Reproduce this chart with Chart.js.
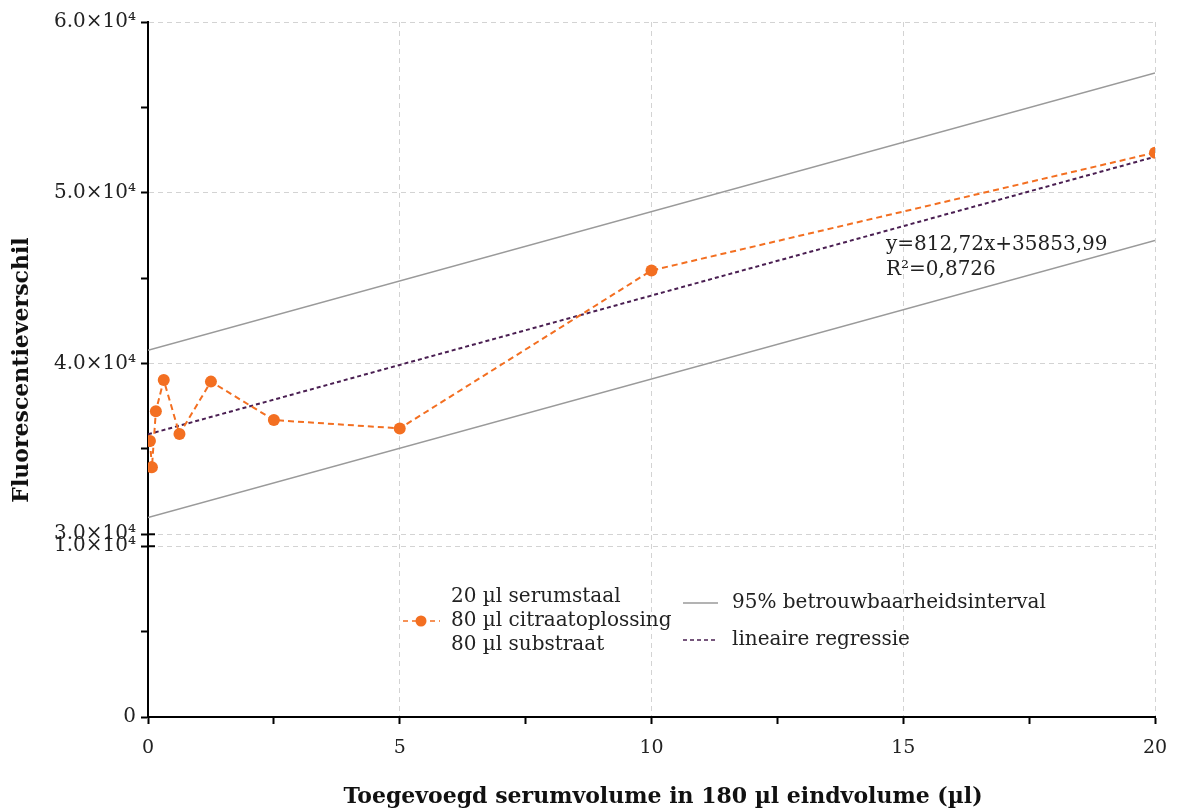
<!DOCTYPE html>
<html>
<head>
<meta charset="utf-8">
<script src="https://cdn.jsdelivr.net/npm/chart.js@4.4.0/dist/chart.umd.min.js"></script>
<style>
  html, body { margin: 0; padding: 0; background: #fff; }
  #wrap { width: 1177px; height: 811px; }
</style>
</head>
<body>
<div id="wrap"><canvas id="myChart"></canvas></div>
<script>
// meetpunten (serumvolume in µl, fluorescentieverschil)
const volumes = [0.039, 0.078, 0.156, 0.3125, 0.625, 1.25, 2.5, 5, 10, 20];
const fluorescence = [35460, 33920, 37210, 39030, 35870, 38940, 36690, 36200, 45450, 52350];

// regressie en 95% interval (eindpunten)
const fitX = [0, 20];
const regressionY = [35854, 52108];
const ciUpperY = [40770, 57020];
const ciLowerY = [30980, 47200];

// assen
const xTicks = [0, 2.5, 5, 7.5, 10, 12.5, 15, 17.5, 20];
const xTickLabels = { 0: '0', 5: '5', 10: '10', 15: '15', 20: '20' };
const yHighTicks = [30000, 35000, 40000, 45000, 50000, 55000, 60000];
const yHighTickLabels = { 30000: '3.0×10⁴', 40000: '4.0×10⁴', 50000: '5.0×10⁴', 60000: '6.0×10⁴' };
const yLowTicks = [0, 5000, 10000];
const yLowTickLabels = { 0: '0', 10000: '1.0×10⁴' };

const FONT = '"DejaVu Serif", serif';
const ORANGE = '#f36f21';
const PURPLE = '#4a1f52';
const GREY = '#9a9a9a';
const GRID = '#d3d3d3';

Chart.defaults.font.family = FONT;
Chart.defaults.color = '#222';

function toPoints(xs, ys) {
    return xs.map((x, i) => ({ x: x, y: ys[i] }));
}

// extra tekst, legende en breukmarkering
const extras = {
    id: 'extras',
    afterDraw(chart) {
        const ctx = chart.ctx;
        const area = chart.chartArea;
        const yHigh = chart.scales.yHigh;
        const yLow = chart.scales.yLow;
        ctx.save();

        // breuk in de y-as: tickjes ook naar binnen
        ctx.strokeStyle = '#000';
        ctx.lineWidth = 2;
        [yHigh.getPixelForValue(30000), yLow.getPixelForValue(10000)].forEach(py => {
            ctx.beginPath();
            ctx.moveTo(area.left, py);
            ctx.lineTo(area.left + 7, py);
            ctx.stroke();
        });

        // astitels
        ctx.fillStyle = '#111';
        ctx.font = 'bold 22px ' + FONT;
        ctx.textAlign = 'center';
        ctx.textBaseline = 'middle';
        ctx.fillText('Toegevoegd serumvolume in 180 µl eindvolume (µl)', 663, 797);
        ctx.save();
        ctx.translate(22, 370);
        ctx.rotate(-Math.PI / 2);
        ctx.fillText('Fluorescentieverschil', 0, 0);
        ctx.restore();

        // vergelijking
        ctx.font = '20px ' + FONT;
        ctx.textAlign = 'left';
        ctx.fillStyle = '#222';
        ctx.fillText('y=812,72x+35853,99', 886, 245);
        ctx.fillText('R²=0,8726', 886, 270);

        // legende links
        ctx.strokeStyle = ORANGE;
        ctx.lineWidth = 1.5;
        ctx.setLineDash([5, 4]);
        ctx.beginPath();
        ctx.moveTo(403, 621);
        ctx.lineTo(440, 621);
        ctx.stroke();
        ctx.setLineDash([]);
        ctx.fillStyle = ORANGE;
        ctx.beginPath();
        ctx.arc(421, 621, 5.5, 0, Math.PI * 2);
        ctx.fill();
        ctx.fillStyle = '#222';
        ctx.fillText('20 µl serumstaal', 451, 597);
        ctx.fillText('80 µl citraatoplossing', 451, 621);
        ctx.fillText('80 µl substraat', 451, 645);

        // legende rechts
        ctx.strokeStyle = GREY;
        ctx.beginPath();
        ctx.moveTo(683, 603);
        ctx.lineTo(718, 603);
        ctx.stroke();
        ctx.strokeStyle = PURPLE;
        ctx.setLineDash([4, 3]);
        ctx.beginPath();
        ctx.moveTo(683, 640);
        ctx.lineTo(718, 640);
        ctx.stroke();
        ctx.setLineDash([]);
        ctx.fillText('95% betrouwbaarheidsinterval', 732, 603);
        ctx.fillText('lineaire regressie', 732, 640);

        ctx.restore();
    }
};

const ctx = document.getElementById('myChart').getContext('2d');
const myChart = new Chart(ctx, {
    type: 'scatter',
    data: {
        datasets: [
            {
                label: 'meting',
                data: toPoints(volumes, fluorescence),
                yAxisID: 'yHigh',
                showLine: true,
                borderColor: ORANGE,
                borderWidth: 2,
                borderDash: [6, 4],
                backgroundColor: ORANGE,
                pointRadius: 6,
                pointBorderWidth: 0,
                order: 0
            },
            {
                label: 'lineaire regressie',
                data: toPoints(fitX, regressionY),
                yAxisID: 'yHigh',
                showLine: true,
                borderColor: PURPLE,
                borderWidth: 2,
                borderDash: [4, 3],
                pointRadius: 0,
                order: 1
            },
            {
                label: '95% boven',
                data: toPoints(fitX, ciUpperY),
                yAxisID: 'yHigh',
                showLine: true,
                borderColor: GREY,
                borderWidth: 1.5,
                pointRadius: 0,
                order: 2
            },
            {
                label: '95% onder',
                data: toPoints(fitX, ciLowerY),
                yAxisID: 'yHigh',
                showLine: true,
                borderColor: GREY,
                borderWidth: 1.5,
                pointRadius: 0,
                order: 2
            }
        ]
    },
    options: {
        responsive: true,
        maintainAspectRatio: false,
        animation: false,
        layout: { padding: { top: 22, right: 22, left: 0, bottom: 0 } },
        plugins: {
            legend: { display: false },
            tooltip: { enabled: false }
        },
        scales: {
            x: {
                type: 'linear',
                min: 0,
                max: 20,
                afterBuildTicks: s => { s.ticks = xTicks.map(v => ({ value: v })); },
                afterFit: s => { s.height = 94; s.paddingLeft = 0; s.paddingRight = 0; },
                ticks: {
                    autoSkip: false,
                    maxRotation: 0,
                    padding: 13,
                    font: { size: 19 },
                    color: '#222',
                    callback: v => xTickLabels[v] ?? ''
                },
                grid: {
                    color: c => (c.tick && c.tick.value !== 0 && xTickLabels[c.tick.value] !== undefined) ? GRID : 'rgba(0,0,0,0)',
                    tickColor: '#000',
                    tickLength: 7,
                    tickWidth: 2,
                    lineWidth: 1
                },
                border: { display: true, color: '#000', width: 2, dash: [5, 4] }
            },
            // de onderste as eerst: Chart.js stapelt links in omgekeerde volgorde
            yLow: {
                type: 'linear',
                position: 'left',
                stack: 'v',
                stackWeight: 10,
                min: 0,
                max: 10000,
                afterBuildTicks: s => { s.ticks = yLowTicks.map(v => ({ value: v })); },
                afterFit: s => { s.width = 148; },
                ticks: {
                    autoSkip: false,
                    padding: 5,
                    font: { size: 20 },
                    color: '#222',
                    callback: v => yLowTickLabels[v] ?? ''
                },
                grid: {
                    color: c => (c.tick && c.tick.value === 10000) ? GRID : 'rgba(0,0,0,0)',
                    tickColor: '#000',
                    tickLength: 7,
                    tickWidth: 2,
                    lineWidth: 1
                },
                border: { display: true, color: '#000', width: 2, dash: [5, 4] }
            },
            yHigh: {
                type: 'linear',
                position: 'left',
                stack: 'v',
                stackWeight: 30.7,
                min: 29300,
                max: 60000,
                afterBuildTicks: s => { s.ticks = yHighTicks.map(v => ({ value: v })); },
                afterFit: s => { s.width = 148; },
                ticks: {
                    autoSkip: false,
                    padding: 5,
                    font: { size: 20 },
                    color: '#222',
                    callback: v => yHighTickLabels[v] ?? ''
                },
                grid: {
                    color: c => (c.tick && yHighTickLabels[c.tick.value] !== undefined) ? GRID : 'rgba(0,0,0,0)',
                    tickColor: '#000',
                    tickLength: 7,
                    tickWidth: 2,
                    lineWidth: 1
                },
                border: { display: true, color: '#000', width: 2, dash: [5, 4] }
            }
        }
    },
    plugins: [extras]
});
</script>
</body>
</html>
